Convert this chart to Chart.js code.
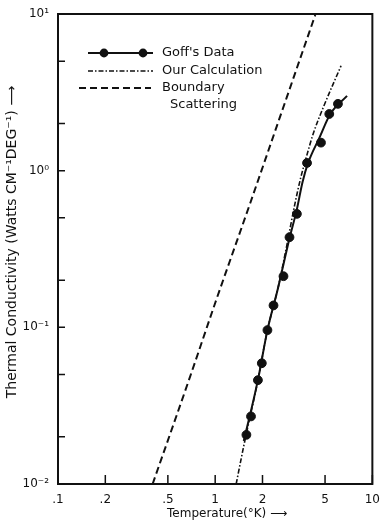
<!DOCTYPE html>
<html>
<head>
<meta charset="utf-8">
<script src="https://cdn.jsdelivr.net/npm/chart.js@4.4.1/dist/chart.umd.min.js"></script>
<style>
  html, body { margin: 0; padding: 0; background: #fff; }
  canvas { display: block; }
</style>
</head>
<body>
<canvas id="chart" width="381" height="523"></canvas>
<script>
// axis ticks
const xTicks = [0.1, 0.2, 0.5, 1, 2, 5, 10];
const xTickLabels = ['.1', '.2', '.5', '1', '2', '5', '10'];
const yTicks = [0.01, 0.02, 0.05, 0.1, 0.2, 0.5, 1, 2, 5, 10];
const yTickLabels = ['10⁻²', '', '', '10⁻¹', '', '', '10⁰', '', '', '10¹'];

// Goff's measured points (temperature °K, conductivity)
const goffT = [1.58, 1.69, 1.87, 1.98, 2.15, 2.35, 2.72, 2.97, 3.31, 3.84, 4.71, 5.32, 6.04];
const goffK = [0.0206, 0.027, 0.046, 0.059, 0.096, 0.138, 0.212, 0.376, 0.53, 1.12, 1.51, 2.30, 2.67];

// solid curve through Goff's data
const goffCurveT = [1.52, 1.87, 2.15, 2.5, 2.97, 3.3, 3.6, 3.9, 4.6, 5.4, 6.9];
const goffCurveK = [0.0188, 0.046, 0.096, 0.175, 0.37, 0.56, 0.85, 1.12, 1.62, 2.3, 3.0];

// our calculation (dash-dot)
const calcT = [1.36, 1.52, 1.87, 2.15, 2.5, 2.85, 3.2, 3.5, 3.8, 4.22, 4.9, 6.32];
const calcK = [0.010, 0.0175, 0.046, 0.096, 0.175, 0.33, 0.60, 0.90, 1.22, 1.74, 2.57, 4.67];

// boundary scattering (dashed)
const boundT = [0.40, 0.70, 1.0, 1.67, 2.5, 4.33];
const boundK = [0.010, 0.050, 0.143, 0.62, 2.0, 9.85];

const INK = '#111';
const FONT = 'DejaVu Sans';

const toPts = (xs, ys) => xs.map((x, i) => ({ x, y: ys[i] }));

// box, inward ticks and the hand-drawn legend
const framePlugin = {
    id: 'frame',
    afterDraw(chart) {
        const { ctx, chartArea: a, scales: { x, y } } = chart;
        ctx.save();
        ctx.strokeStyle = INK;
        ctx.fillStyle = INK;
        ctx.lineWidth = 2;
        ctx.strokeRect(a.left, a.top, a.right - a.left, a.bottom - a.top);

        ctx.lineWidth = 1.5;
        ctx.beginPath();
        x.ticks.forEach(t => {
            const px = x.getPixelForValue(t.value);
            ctx.moveTo(px, a.bottom);
            ctx.lineTo(px, a.bottom - 9);
        });
        y.ticks.forEach(t => {
            const py = y.getPixelForValue(t.value);
            ctx.moveTo(a.left, py);
            ctx.lineTo(a.left + 7, py);
        });
        ctx.stroke();

        // legend
        ctx.font = `13px "${FONT}"`;
        ctx.textBaseline = 'middle';
        ctx.textAlign = 'left';

        ctx.lineWidth = 2;
        ctx.setLineDash([]);
        ctx.beginPath();
        ctx.moveTo(88, 53);
        ctx.lineTo(153, 53);
        ctx.stroke();
        [104, 143].forEach(cx => {
            ctx.beginPath();
            ctx.arc(cx, 53, 4.4, 0, Math.PI * 2);
            ctx.fill();
        });
        ctx.fillText("Goff's Data", 162, 53);

        ctx.lineWidth = 1.6;
        ctx.setLineDash([5, 2, 1.5, 2]);
        ctx.beginPath();
        ctx.moveTo(88, 71);
        ctx.lineTo(153, 71);
        ctx.stroke();
        ctx.fillText('Our Calculation', 162, 71);

        ctx.lineWidth = 2;
        ctx.setLineDash([7, 4]);
        ctx.beginPath();
        ctx.moveTo(79, 88);
        ctx.lineTo(151, 88);
        ctx.stroke();
        ctx.fillText('Boundary', 162, 88);
        ctx.fillText('Scattering', 170, 105);

        ctx.restore();
    }
};

new Chart(document.getElementById('chart'), {
    type: 'scatter',
    data: {
        datasets: [
            {
                label: 'Boundary Scattering',
                data: toPts(boundT, boundK),
                showLine: true,
                borderColor: INK,
                borderWidth: 2,
                borderDash: [7, 4],
                pointRadius: 0,
                cubicInterpolationMode: 'monotone'
            },
            {
                label: 'Our Calculation',
                data: toPts(calcT, calcK),
                showLine: true,
                borderColor: INK,
                borderWidth: 1.6,
                borderDash: [5, 2, 1.5, 2],
                pointRadius: 0,
                cubicInterpolationMode: 'monotone'
            },
            {
                label: "Goff's Data (curve)",
                data: toPts(goffCurveT, goffCurveK),
                showLine: true,
                borderColor: INK,
                borderWidth: 2,
                pointRadius: 0,
                cubicInterpolationMode: 'monotone'
            },
            {
                label: "Goff's Data",
                data: toPts(goffT, goffK),
                showLine: false,
                pointRadius: 4.4,
                backgroundColor: INK,
                borderColor: INK
            }
        ]
    },
    options: {
        responsive: false,
        animation: false,
        devicePixelRatio: 1,
        layout: { padding: { top: 14, right: 0, left: 0, bottom: 0 } },
        plugins: {
            legend: { display: false },
            tooltip: { enabled: false }
        },
        scales: {
            x: {
                type: 'logarithmic',
                min: 0.1,
                max: 10,
                afterBuildTicks: s => { s.ticks = xTicks.map(v => ({ value: v })); },
                afterFit: s => { s.height = 39; },
                grid: { display: false },
                border: { display: false },
                ticks: {
                    autoSkip: false,
                    maxRotation: 0,
                    padding: 1,
                    color: INK,
                    font: { family: FONT, size: 12 },
                    callback: (v, i) => xTickLabels[i]
                },
                title: {
                    display: true,
                    text: '\u2002\u2002\u2002\u2002Temperature(°K) ⟶',
                    color: INK,
                    font: { family: FONT, size: 12 },
                    padding: { top: 0, bottom: 2 }
                }
            },
            y: {
                type: 'logarithmic',
                min: 0.01,
                max: 10,
                afterBuildTicks: s => { s.ticks = yTicks.map(v => ({ value: v })); },
                afterFit: s => { s.width = 58; },
                grid: { display: false },
                border: { display: false },
                ticks: {
                    autoSkip: false,
                    padding: 1,
                    color: INK,
                    font: { family: FONT, size: 12 },
                    callback: (v, i) => yTickLabels[i]
                },
                title: {
                    display: true,
                    text: '\u2002\u2002Thermal Conductivity (Watts CM⁻¹DEG⁻¹) ⟶',
                    color: INK,
                    font: { family: FONT, size: 14 },
                    padding: { top: 4, bottom: 0 }
                }
            }
        }
    },
    plugins: [framePlugin]
});
</script>
</body>
</html>
